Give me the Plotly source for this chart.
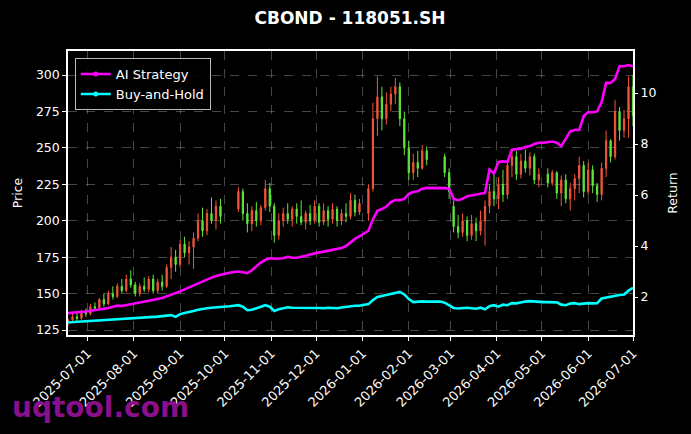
import pandas as pd
import plotly.graph_objects as go

# ---- data (one sample every 3 calendar days from 2025-06-18 to 2026-07-01) ----
start_date = "2025-06-18"
step_days = 3
n_points = 127

# None = market closed (holiday)
opens = [130, 132, 134, 133, 138, 136, 141, 140, 146, 143, 150, 148, 155, 152, 160,
         156, 150, 155, 153, 160, 152, 158, 155, 168, 175, 170, 184, 178, 182, 188,
         200, 193, 205, 200, 210, None, None, None, 208, 220, 205, 198, 207, 200, 209,
         222, 210, 190, 200, 205, 201, 208, 203, 199, 205, 200, 210, 199, 207, 201,
         208, 200, 205, 203, 214, 206, None, 205, 222, 270, 285, 270, 280, 287, 292,
         270, 250, 233, 240, 236, 248, None, None, None, 244, 233, 210, 196, 192, 200,
         190, 198, 193, 200, 210, 220, 215, 225, 218, 238, 244, 232, 241, 236, 244,
         228, None, 232, 226, 233, 219, 228, 215, 222, 229, 238, 220, 235, 224, 218,
         236, 255, 244, 275, 262, 270, 292]
highs = [133, 136, 137, 139, 140, 143, 144, 147, 150, 152, 155, 157, 160, 163, 166,
         158, 157, 161, 162, 163, 160, 163, 170, 182, 180, 187, 189, 186, 192, 205,
         209, 208, 216, 214, 215, None, None, None, 223, 222, 212, 210, 213, 211, 228,
         226, 212, 205, 209, 212, 210, 212, 214, 207, 211, 214, 212, 212, 210, 212,
         210, 208, 212, 219, 218, 215, None, 225, 281, 299, 292, 288, 292, 298, 295,
         275, 255, 246, 248, 252, 251, None, None, None, 246, 236, 214, 204, 205, 203,
         204, 202, 207, 214, 225, 232, 230, 235, 242, 249, 248, 246, 249, 247, 246,
         236, None, 236, 235, 234, 231, 232, 226, 232, 244, 241, 240, 238, 226, 240,
         262, 256, 283, 278, 276, 299, 300]
lows = [128, 131, 131, 132, 134, 135, 138, 139, 141, 142, 146, 147, 150, 151, 154,
        148, 148, 151, 151, 150, 150, 152, 154, 160, 165, 168, 175, 170, 167, 186,
        189, 190, 198, 194, 198, None, None, None, 206, 200, 192, 193, 196, 197, 207,
        206, 185, 187, 196, 198, 196, 198, 197, 194, 197, 198, 196, 197, 196, 198,
        196, 197, 199, 201, 203, 204, None, 200, 220, 258, 262, 266, 275, 280, 265,
        245, 228, 228, 230, 235, 238, None, None, None, 230, 215, 192, 188, 189, 186,
        187, 186, 190, 183, 205, 210, 208, 213, 215, 230, 228, 229, 233, 231, 225,
        223, None, 223, 224, 215, 210, 212, 207, 214, 219, 216, 218, 219, 213, 214,
        230, 240, 242, 255, 257, 257, 265]
closes = [132, 134, 133, 138, 136, 141, 140, 146, 143, 150, 148, 155, 152, 160, 156,
          150, 155, 153, 160, 152, 158, 155, 168, 175, 170, 184, 178, 182, 188, 200,
          193, 205, 200, 210, 203, None, None, None, 220, 205, 198, 207, 200, 209, 222,
          210, 190, 200, 205, 201, 208, 203, 199, 205, 200, 210, 199, 207, 201, 208,
          200, 205, 203, 214, 206, 212, None, 222, 270, 285, 270, 280, 287, 292, 270,
          250, 233, 240, 236, 248, 242, None, None, None, 233, 220, 196, 192, 200, 190,
          198, 193, 200, 210, 220, 215, 225, 218, 238, 244, 232, 241, 236, 244, 228,
          232, None, 226, 233, 219, 228, 215, 222, 229, 238, 220, 235, 224, 218, 236,
          255, 244, 275, 262, 270, 292, 272]

ai_return = [1.37, 1.38, 1.40, 1.42, 1.43, 1.46, 1.48, 1.50, 1.54, 1.57, 1.60, 1.66, 1.65, 1.68, 1.72,
             1.76, 1.80, 1.83, 1.86, 1.89, 1.92, 1.96, 2.02, 2.08, 2.15, 2.22, 2.30, 2.38, 2.46, 2.55,
             2.63, 2.70, 2.76, 2.82, 2.87, 2.92, 2.95, 2.98, 3.00, 2.97, 2.94, 3.05, 3.22, 3.35, 3.46,
             3.52, 3.50, 3.50, 3.52, 3.58, 3.54, 3.54, 3.57, 3.62, 3.67, 3.72, 3.75, 3.78, 3.82, 3.86,
             3.88, 3.92, 4.00, 4.15, 4.28, 4.38, 4.48, 4.60, 5.05, 5.38, 5.45, 5.55, 5.72, 5.80, 5.80,
             5.85, 6.05, 6.12, 6.15, 6.25, 6.28, 6.28, 6.28, 6.28, 6.27, 6.25, 5.85, 5.80, 5.85, 5.95,
             5.98, 6.02, 6.05, 6.08, 7.00, 6.85, 7.30, 7.32, 7.30, 7.78, 7.80, 7.82, 7.88, 7.92, 8.00,
             8.05, 8.05, 8.08, 8.10, 8.05, 7.92, 8.20, 8.50, 8.55, 8.55, 9.10, 9.25, 9.25, 9.28, 9.65,
             10.40, 10.40, 10.55, 11.05, 11.05, 11.10, 11.05]
bh_return = [1.00, 1.02, 1.03, 1.04, 1.05, 1.06, 1.07, 1.08, 1.09, 1.10, 1.11, 1.13, 1.14, 1.15, 1.17,
             1.18, 1.19, 1.20, 1.21, 1.22, 1.23, 1.25, 1.27, 1.29, 1.22, 1.33, 1.37, 1.40, 1.45, 1.50,
             1.54, 1.56, 1.58, 1.59, 1.60, 1.62, 1.64, 1.66, 1.68, 1.62, 1.48, 1.50, 1.56, 1.62, 1.68,
             1.62, 1.45, 1.52, 1.57, 1.60, 1.58, 1.58, 1.57, 1.58, 1.59, 1.58, 1.57, 1.56, 1.58, 1.57,
             1.56, 1.59, 1.62, 1.64, 1.66, 1.66, 1.68, 1.72, 1.88, 2.00, 2.04, 2.08, 2.14, 2.18, 2.20,
             2.10, 1.92, 1.80, 1.82, 1.83, 1.82, 1.82, 1.82, 1.82, 1.78, 1.68, 1.57, 1.55, 1.56, 1.58,
             1.56, 1.54, 1.58, 1.52, 1.64, 1.68, 1.62, 1.70, 1.68, 1.76, 1.75, 1.80, 1.82, 1.84, 1.82,
             1.80, 1.80, 1.80, 1.79, 1.79, 1.70, 1.68, 1.74, 1.76, 1.72, 1.74, 1.76, 1.75, 1.76, 1.94,
             1.98, 2.00, 2.05, 2.08, 2.10, 2.25, 2.36]

month_ticks = ["2025-07-01", "2025-08-01", "2025-09-01", "2025-10-01", "2025-11-01",
               "2025-12-01", "2026-01-01", "2026-02-01", "2026-03-01", "2026-04-01",
               "2026-05-01", "2026-06-01", "2026-07-01"]
price_ticks = [125, 150, 175, 200, 225, 250, 275, 300]
return_ticks = [2, 4, 6, 8, 10]

# ---- build ----
dates = pd.date_range(start_date, periods=n_points, freq=f"{step_days}D")
keep = [i for i in range(n_points) if closes[i] is not None]
cd = [dates[i] for i in keep]

FONT = "DejaVu Sans"
fig = go.Figure()

fig.add_trace(go.Candlestick(
    x=cd,
    open=[opens[i] for i in keep], high=[highs[i] for i in keep],
    low=[lows[i] for i in keep], close=[closes[i] for i in keep],
    increasing=dict(line=dict(color="#f2553a", width=1), fillcolor="#f2553a"),
    decreasing=dict(line=dict(color="#5fe83a", width=1), fillcolor="#5fe83a"),
    whiskerwidth=0, showlegend=False, yaxis="y", name="Price"))

fig.add_trace(go.Scatter(x=dates, y=ai_return, mode="lines", yaxis="y2",
                         line=dict(color="#ff00ff", width=2.6), showlegend=False))
fig.add_trace(go.Scatter(x=dates, y=bh_return, mode="lines", yaxis="y2",
                         line=dict(color="#00ffff", width=2.6), showlegend=False))
# legend entries (line with dot marker, as in the reference)
fig.add_trace(go.Scatter(x=[None], y=[None], mode="lines+markers", name="AI Strategy", yaxis="y2",
                         line=dict(color="#ff00ff", width=2.6), marker=dict(size=5)))
fig.add_trace(go.Scatter(x=[None], y=[None], mode="lines+markers", name="Buy-and-Hold", yaxis="y2",
                         line=dict(color="#00ffff", width=2.6), marker=dict(size=5)))

grid = "rgba(128,128,128,0.55)"
fig.update_layout(
    width=691, height=434,
    margin=dict(l=68, r=58, t=51, b=99),
    paper_bgcolor="black", plot_bgcolor="black",
    font=dict(family=FONT, color="white", size=12),
    title=dict(text="<b>CBOND - 118051.SH</b>", x=350 / 691, xanchor="center",
               y=1 - 18 / 434, yanchor="middle", font=dict(size=17, color="white")),
    xaxis=dict(type="date", range=[dates[0], dates[-1]], rangeslider=dict(visible=False),
               tickvals=month_ticks, ticktext=month_ticks, tickangle=-45,
               showgrid=True, gridcolor=grid, griddash="dash", gridwidth=0.7,
               showline=True, linecolor="white", linewidth=1.5, mirror=True,
               ticks="outside", ticklen=4, tickcolor="white", tickfont=dict(size=13),
               zeroline=False),
    yaxis=dict(range=[121.6, 316.5], tickvals=price_ticks,
               showgrid=True, gridcolor=grid, griddash="dash", gridwidth=0.7,
               showline=True, linecolor="white", linewidth=1.5, mirror=True,
               ticks="outside", ticklen=4, tickcolor="white", tickfont=dict(size=12.5),
               title=dict(text="Price", font=dict(size=12.5), standoff=11), zeroline=False),
    yaxis2=dict(range=[0.51, 11.65], tickvals=return_ticks, overlaying="y", side="right",
                showgrid=False, showline=False, ticks="outside", ticklen=4, tickcolor="white",
                tickfont=dict(size=12.5), title=dict(text="Return", font=dict(size=12.5), standoff=12),
                zeroline=False),
    legend=dict(x=0.012, y=0.975, xanchor="left", yanchor="top",
                bgcolor="rgba(0,0,0,0.85)", bordercolor="#bbbbbb", borderwidth=1,
                font=dict(size=13, color="white"), tracegroupgap=0, itemwidth=30),
    boxgap=0.6,
    showlegend=True,
)

fig.add_annotation(text="<b>uqtool.com</b>", xref="paper", yref="paper",
                   x=(10 - 68) / 565, y=(335 - 407) / 284, xanchor="left", yanchor="middle",
                   showarrow=False, font=dict(size=28, color="#8a0f8a", family=FONT))

fig.write_html("out.html")
